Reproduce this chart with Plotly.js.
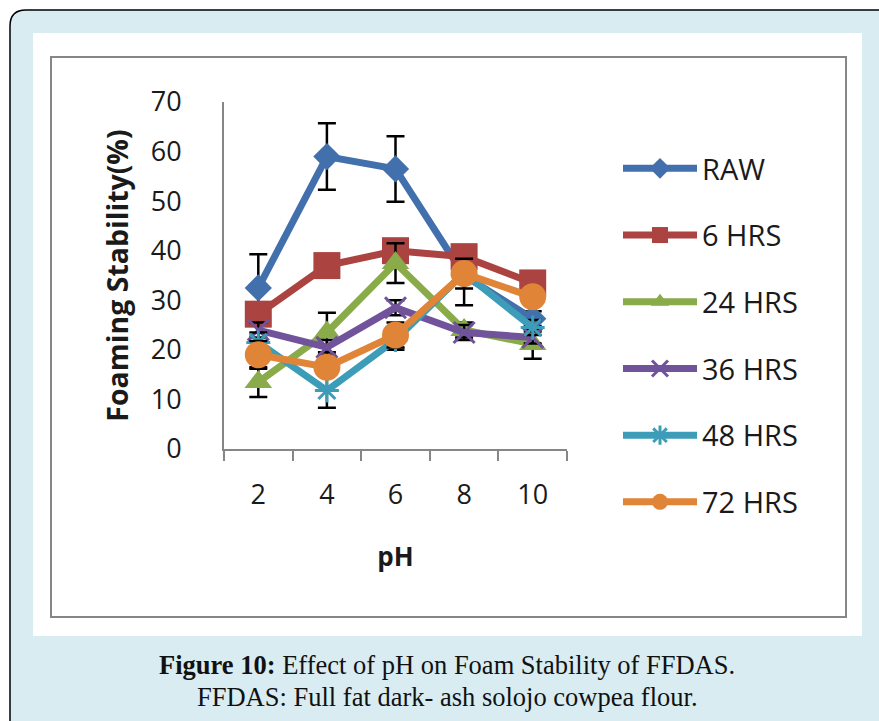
<!DOCTYPE html>
<html>
<head>
<meta charset="utf-8">
<script src="https://cdn.plot.ly/plotly-3.0.1.min.js"></script>
<style>html,body{margin:0;padding:0;background:#fff;}#chart{width:879px;height:721px;}</style>
</head>
<body>
<div id="chart"></div>
<script>
// ---- data ----
const phLabels = ["2", "4", "6", "8", "10"];
const seriesNames = ["RAW", "6 HRS", "24 HRS", "36 HRS", "48 HRS", "72 HRS"];
const raw   = [32.5, 59.0, 56.5, 35.0, 26.3];
const hrs6  = [27.2, 37.0, 40.0, 38.8, 33.5];
const hrs24 = [13.5, 23.5, 37.5, 24.0, 21.2];
const hrs36 = [24.0, 20.5, 28.5, 23.5, 22.5];
const hrs48 = [21.5, 11.8, 22.0, 35.5, 24.5];
const hrs72 = [19.0, 16.5, 23.0, 35.4, 30.7];
const errRaw   = [6.8, 6.7, 6.6, 6.0, 1.5];
const err6     = [1.0, 1.0, 1.0, 2.3, 1.0];
const err24    = [3.0, 4.0, 4.0, 1.5, 3.0];
const err36    = [1.5, 1.5, 1.5, 1.5, 1.2];
const err48    = [2.0, 3.5, 2.0, 1.5, 1.5];
const err72    = [2.8, 1.5, 2.5, 3.0, 1.0];

// ---- styles ----
const W = 879, H = 721;
const M = {l: 224, r: 312, t: 102, b: 272};
const colors = ["#4170ad", "#ab4341", "#8aab4a", "#70539a", "#3d9db8", "#e08537"];
const symbols = ["diamond", "square", "triangle-up", "x-thin", "asterisk", "circle"];
const sizes = [21, 27, 24, 21, 20, 27];
const values = [raw, hrs6, hrs24, hrs36, hrs48, hrs72];
const errs = [errRaw, err6, err24, err36, err48, err72];

const traces = values.map((v, i) => {
  const lineSym = symbols[i] === "x-thin" || symbols[i] === "asterisk";
  return {
    type: "scatter", mode: "lines+markers",
    x: phLabels, y: v, name: seriesNames[i], legendgroup: "g" + i,
    line: {color: colors[i], width: 7},
    marker: {symbol: symbols[i], size: sizes[i], color: colors[i],
             line: {color: colors[i], width: lineSym ? 3 : 0}},
    error_y: {type: "data", array: errs[i], visible: true, color: "#000", thickness: 2.5, width: 9},
    hoverinfo: "skip"
  };
});

// pixel -> paper helpers
const pw = W - M.l - M.r, ph = H - M.t - M.b;
const px = x => (x - M.l) / pw;
const py = y => (H - M.b - y) / ph;

const shapes = [
  {type: "path", xref: "paper", yref: "paper", layer: "below",
   path: `M${px(10)},${py(725)} L${px(10)},${py(26)} Q${px(10)},${py(10)} ${px(26)},${py(10)} L${px(885)},${py(10)} L${px(885)},${py(725)} Z`,
   fillcolor: "#d8ecf2", line: {color: "#000", width: 1.5}},
  {type: "rect", xref: "paper", yref: "paper", layer: "below",
   x0: px(33), x1: px(862), y0: py(636), y1: py(33), fillcolor: "#fff", line: {width: 0}},
  {type: "rect", xref: "paper", yref: "paper", layer: "below",
   x0: px(51), x1: px(846), y0: py(617), y1: py(57), fillcolor: "rgba(0,0,0,0)", line: {color: "#868686", width: 2}}
];

const annotations = [
  {xref: "paper", yref: "paper", x: px(447), y: py(665), xanchor: "center", yanchor: "middle", showarrow: false,
   text: "<b>Figure 10:</b> Effect of pH on Foam Stability of FFDAS.",
   font: {family: "Liberation Serif", size: 26.5, color: "#111"}},
  {xref: "paper", yref: "paper", x: px(447), y: py(697), xanchor: "center", yanchor: "middle", showarrow: false,
   text: "FFDAS: Full fat dark- ash solojo cowpea flour.",
   font: {family: "Liberation Serif", size: 26.5, color: "#111"}}
];

const layout = {
  width: W, height: H, margin: M,
  paper_bgcolor: "rgba(0,0,0,0)", plot_bgcolor: "rgba(0,0,0,0)",
  font: {family: "Open Sans", color: "#1a1a1a"},
  showlegend: true,
  legend: {x: px(618), y: py(143), xanchor: "left", yanchor: "top",
           font: {family: "Open Sans", size: 29, color: "#1a1a1a"},
           traceorder: "grouped", tracegroupgap: 26, itemwidth: 74, maxheight: 600,
           bgcolor: "rgba(0,0,0,0)"},
  xaxis: {type: "category", categoryorder: "array", categoryarray: phLabels, range: [-0.5, 4.5],
          tickson: "boundaries", ticks: "outside", ticklen: 10, tickwidth: 2, tickcolor: "#868686",
          showline: true, linecolor: "#868686", linewidth: 2, showgrid: false, zeroline: false,
          tickfont: {family: "Open Sans", size: 27, color: "#1a1a1a"}, ticklabelstandoff: 21,
          title: {text: "<b>pH</b>", font: {family: "Open Sans", size: 26, color: "#1a1a1a"}, standoff: 36}},
  yaxis: {range: [0, 70], dtick: 10, ticks: "", showline: true, linecolor: "#868686", linewidth: 2,
          showgrid: false, zeroline: false,
          tickfont: {family: "Open Sans", size: 27, color: "#1a1a1a"}, ticklabelstandoff: 35,
          title: {text: "<b>Foaming Stability(%)</b>", font: {family: "Open Sans", size: 28.5, color: "#1a1a1a"}, standoff: 14}},
  shapes: shapes,
  annotations: annotations
};

Plotly.newPlot("chart", traces, layout, {displayModeBar: false, staticPlot: true});
</script>
</body>
</html>
